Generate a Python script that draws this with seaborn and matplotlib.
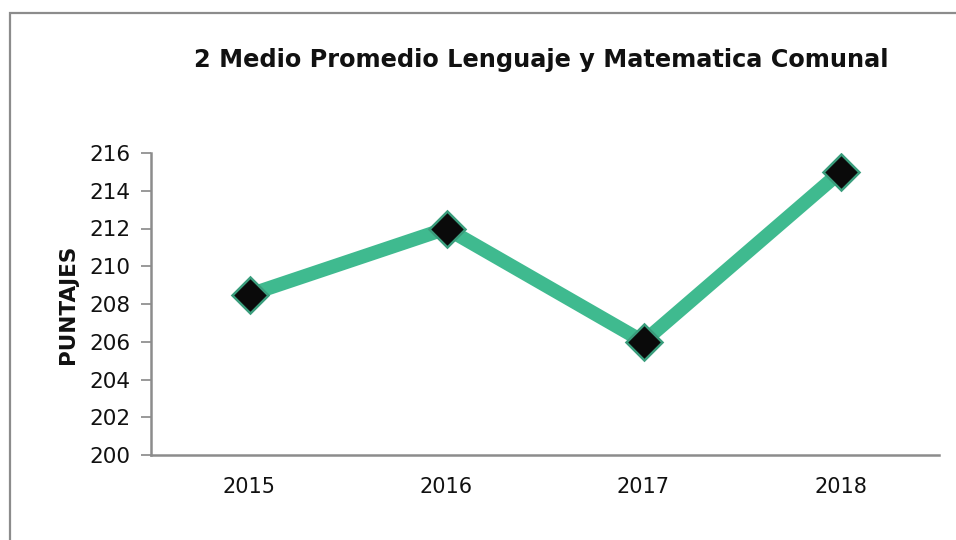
import matplotlib
matplotlib.use("Agg")
import matplotlib.pyplot as plt
import seaborn as sns
import pandas as pd
from matplotlib.patches import Rectangle

years = ["2015", "2016", "2017", "2018"]
puntajes = [208.5, 212, 206, 215]
yticks = [200, 202, 204, 206, 208, 210, 212, 214, 216]
title = "2 Medio Promedio Lenguaje y Matematica Comunal"
ylabel = "PUNTAJES"

df = pd.DataFrame({"year": years, "puntaje": puntajes})

sns.set_theme(style="white")
plt.rcParams["font.family"] = ["DejaVu Sans"]

fig = plt.figure(figsize=(9.56, 5.4), dpi=100)
ax = fig.add_axes([151/956, 1-455/540, (939-151)/956, (455-153)/540])

sns.lineplot(data=df, x="year", y="puntaje", ax=ax, sort=False,
             color="#3fba8f", linewidth=10, marker="D", markersize=18,
             markerfacecolor="#0a0a0a", markeredgecolor="#3a9d7c",
             markeredgewidth=1.8)

ax.set_xlim(-0.5, 3.5)
ax.set_ylim(200, 216)
ax.set_yticks(yticks)
ax.set_yticklabels([str(t) for t in yticks], fontsize=15.5, color="#111111")
ax.tick_params(axis="y", which="both", left=True, length=7, width=1.2,
               color="#888888", pad=8)
ax.tick_params(axis="x", bottom=False, labelsize=15, labelcolor="#111111", pad=10)
ax.set_xlabel("")
ax.set_ylabel(ylabel, fontsize=15.5, fontweight="bold", color="#111111", labelpad=8)

for s in ["top", "right"]:
    ax.spines[s].set_visible(False)
for s in ["left", "bottom"]:
    ax.spines[s].set_color("#8c8c8c")
    ax.spines[s].set_linewidth(1.8)

fig.text(541/956, 1-60/540, title, ha="center", va="center",
         fontsize=17.3, fontweight="bold", color="#111111")

fig.patches.append(Rectangle((10/956, -0.1), 1.2, 1 - 13/540 + 0.1,
                             transform=fig.transFigure, fill=False,
                             edgecolor="#8c8c8c", linewidth=1.6))

fig.savefig("out.png", dpi=100)
